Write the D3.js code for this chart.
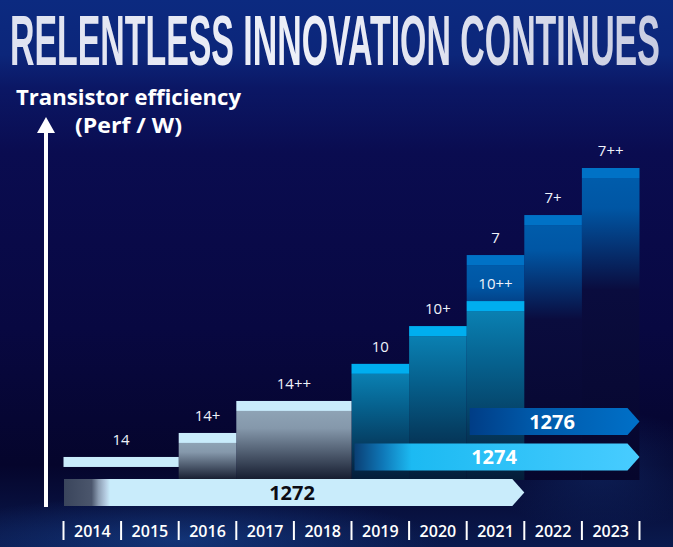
<!DOCTYPE html>
<html><head><meta charset="utf-8">
<script src="https://cdn.jsdelivr.net/npm/d3@7"></script>
<style>html,body{margin:0;padding:0;background:#07083a;}svg{display:block;}</style>
</head><body>
<script>
// ---- data ----
const years = [2014, 2015, 2016, 2017, 2018, 2019, 2020, 2021, 2022, 2023];
const nodes = ["14", "14+", "14++", "10", "10+", "10++", "7", "7+", "7++"];
const nodeFamily = ["14", "14", "14", "10", "10", "10", "7", "7", "7"];
const nodeStart = [2014, 2016, 2017, 2019, 2020, 2021, 2021, 2022, 2023];
const nodeSpan = [2, 1, 2, 1, 1, 1, 1, 1, 1];
const nodeEfficiency = [0.72, 1.47, 2.47, 3.63, 4.81, 5.59, 7.03, 8.28, 9.75];
const processes = ["1272", "1274", "1276"];
const processStart = [2014, 2019, 2021];
const processEnd = [2021, 2023, 2023];
const titleText = "RELENTLESS INNOVATION CONTINUES";
const yLabel1 = "Transistor efficiency";
const yLabel2 = "(Perf / W)";

const W = 673, H = 547;
const svg = d3.select("body").append("svg").attr("width", W).attr("height", H);
const defs = svg.append("defs");

// background
const bg = defs.append("linearGradient").attr("id", "bg").attr("x1", 0).attr("y1", 0).attr("x2", 0).attr("y2", 1);
[[0, "#0c2a80"], [0.1, "#0c267a"], [0.16, "#0b1765"], [0.28, "#0a0c50"], [0.6, "#080841"], [0.85, "#05052c"], [1, "#0a1a4e"]]
  .forEach(([o, c]) => bg.append("stop").attr("offset", o).attr("stop-color", c));
svg.append("rect").attr("width", W).attr("height", H).attr("fill", "url(#bg)");
const glow = defs.append("radialGradient").attr("id", "glow").attr("cx", 0.5).attr("cy", 0.5).attr("r", 0.5);
glow.append("stop").attr("offset", 0).attr("stop-color", "#1a4a9a").attr("stop-opacity", 0.55);
glow.append("stop").attr("offset", 1).attr("stop-color", "#1a4a9a").attr("stop-opacity", 0);
svg.append("ellipse").attr("cx", 180).attr("cy", 540).attr("rx", 260).attr("ry", 45).attr("fill", "url(#glow)");
svg.append("ellipse").attr("cx", 600).attr("cy", 470).attr("rx", 120).attr("ry", 60).attr("fill", "url(#glow)").attr("opacity", 0.6);

// scales
const x = d3.scaleBand().domain(years).range([63.5, 639.5]).padding(0);
const bw = x.bandwidth();
const y = d3.scaleLinear().domain([0, 10]).range([480, 160]);

// gradients per family
const famStyle = {
  "14": {cap: "#c9ecfb", stops: [[0, "#8ea3b5"], [0.25, "#8598ab"], [1, "#141b2e"]]},
  "10": {cap: "#00aeef", stops: [[0, "#0a80b2"], [0.3, "#06628f"], [1, "#041c38"]]},
  "7":  {cap: "#0072c6", stops: [[0, "#005cab"], [0.1, "#0056a4"], [0.37, "#0a0c3e"], [1, "#06062c"]]}
};
Object.entries(famStyle).forEach(([k, s]) => {
  const g = defs.append("linearGradient").attr("id", "body" + k).attr("x1", 0).attr("y1", 0).attr("x2", 0).attr("y2", 1);
  s.stops.forEach(([o, c]) => g.append("stop").attr("offset", o).attr("stop-color", c));
});

// title (stretched vertically to give the condensed look)
const tg = defs.append("linearGradient").attr("id", "titleFill").attr("x1", 0).attr("y1", 0).attr("x2", 1).attr("y2", 0);
tg.append("stop").attr("offset", 0).attr("stop-color", "#dfe2f0");
tg.append("stop").attr("offset", 0.45).attr("stop-color", "#eef0f8");
tg.append("stop").attr("offset", 1).attr("stop-color", "#c9cde2");
const titleG = svg.append("g");
const title = titleG.append("text").attr("x", 0).attr("y", 0)
  .style("font-family", "'Liberation Sans',Arial,sans-serif")
  .style("font-weight", 700).style("font-size", "42px").attr("fill", "url(#titleFill)")
  .text(titleText);
const tw = title.node().getComputedTextLength();
titleG.attr("transform", `translate(10,65) scale(${650 / tw},${71 / 42})`);

// y-axis label
svg.append("text").attr("x", 16).attr("y", 105).attr("textLength", 225).attr("lengthAdjust", "spacingAndGlyphs")
  .style("font-family", "'Open Sans',sans-serif").style("font-weight", 700).style("font-size", "21px")
  .attr("fill", "#ffffff").text(yLabel1);
svg.append("text").attr("x", 75).attr("y", 133).attr("textLength", 107).attr("lengthAdjust", "spacingAndGlyphs")
  .style("font-family", "'Open Sans',sans-serif").style("font-weight", 700).style("font-size", "21px")
  .attr("fill", "#ffffff").text(yLabel2);

// y-axis arrow
svg.append("line").attr("x1", 46).attr("x2", 46).attr("y1", 507).attr("y2", 128)
  .attr("stroke", "#ffffff").attr("stroke-width", 4);
svg.append("path").attr("d", "M37,133 L55,133 L46,117 Z").attr("fill", "#ffffff");

// bars
const bars = nodes.map((n, i) => ({n, fam: nodeFamily[i], start: nodeStart[i], span: nodeSpan[i], v: nodeEfficiency[i], i}));
const order = bars.slice().sort((a, b) => b.v - a.v);
const capH = 10;
const g = svg.append("g");
order.forEach(d => {
  const x0 = x(d.start), w = bw * d.span, yt = y(d.v);
  const s = famStyle[d.fam];
  if (d.i !== 0) {
    g.append("rect").attr("x", x0).attr("y", yt + capH).attr("width", w).attr("height", y(0) - yt - capH)
      .attr("fill", "url(#body" + d.fam + ")");
  }
  g.append("rect").attr("x", x0).attr("y", yt).attr("width", w).attr("height", capH).attr("fill", s.cap);
});
// node labels
svg.append("g").selectAll("text").data(bars).join("text")
  .attr("x", d => x(d.start) + bw * d.span / 2)
  .attr("y", d => y(d.v) - 12)
  .attr("text-anchor", "middle")
  .style("font-family", "'Open Sans',sans-serif").style("font-size", "15px")
  .attr("fill", "#eef2fa").text(d => d.n);

// process arrows
const arrowStyle = [
  {stops: [[0, "#3a455c"], [0.06, "#4b566c"], [0.075, "#8c9db2"], [0.09, "#b4cbe0"], [0.1, "#c9ecfb"], [1, "#c9ecfb"]], text: "#0c0c14"},
  {stops: [[0, "#0a3f74"], [0.1, "#0f78b8"], [0.2, "#1cbaf2"], [1, "#48ccff"]], text: "#ffffff"},
  {stops: [[0, "#003d86"], [0.35, "#0058a8"], [1, "#0070c8"]], text: "#ffffff"}
];
const rowH = 27, tip = 12;
processes.forEach((p, i) => {
  const gid = "arr" + i;
  const lg = defs.append("linearGradient").attr("id", gid).attr("x1", 0).attr("y1", 0).attr("x2", 1).attr("y2", 0);
  arrowStyle[i].stops.forEach(([o, c]) => lg.append("stop").attr("offset", o).attr("stop-color", c));
  const x0 = x(processStart[i]) + (i === 0 ? 0.5 : 3);
  const x1 = x(processEnd[i]) + bw;
  const yt = 479 - i * 35.5;
  const path = d3.path();
  path.moveTo(x0, yt); path.lineTo(x1 - tip, yt); path.lineTo(x1, yt + rowH / 2);
  path.lineTo(x1 - tip, yt + rowH); path.lineTo(x0, yt + rowH); path.closePath();
  svg.append("path").attr("d", path.toString()).attr("fill", "url(#" + gid + ")");
  const cx = [292, 494, 552][i];
  svg.append("text").attr("x", cx).attr("y", yt + rowH / 2 + 7).attr("text-anchor", "middle")
    .style("font-family", "'Open Sans',sans-serif").style("font-weight", 700).style("font-size", "20px")
    .attr("fill", arrowStyle[i].text).text(p);
});

// year axis
const ax = svg.append("g");
ax.selectAll("text").data(years).join("text")
  .attr("x", d => x(d) + bw / 2).attr("y", 537).attr("text-anchor", "middle")
  .style("font-family", "'Open Sans',sans-serif").style("font-weight", 600).style("font-size", "16px")
  .attr("fill", "#ffffff").text(d => d);
const seps = years.map(d => x(d)).concat([x(years[years.length - 1]) + bw]);
ax.selectAll("line").data(seps).join("line")
  .attr("x1", d => d).attr("x2", d => d).attr("y1", 521).attr("y2", 540)
  .attr("stroke", "#ffffff").attr("stroke-width", 2);
</script>
</body></html>
